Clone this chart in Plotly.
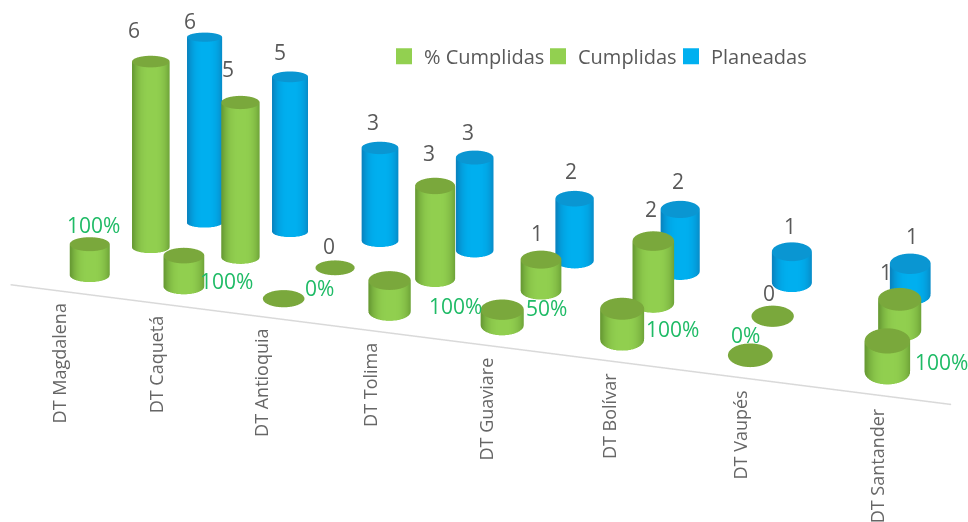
import numpy as np
import plotly.graph_objects as go

categories = ["DT Magdalena", "DT Caquetá", "DT Antioquia", "DT Tolima", "DT Guaviare", "DT Bolívar", "DT Vaupés", "DT Santander"]
pct_cumplidas = [1.0, 1.0, 0.0, 1.0, 0.5, 1.0, 0.0, 1.0]
cumplidas = [6, 5, 0, 3, 1, 2, 0, 1]
planeadas = [6, 5, 3, 3, 2, 2, 1, 1]
series_names = ["% Cumplidas", "Cumplidas", "Planeadas"]

# Floor-plane layout: (category, series) corners -> floor points, gives the converging rows of the original
CORNERS_SRC = [(0, 0), (7, 0), (0, 2), (7, 2)]
CORNERS_DST = [(89, 275), (887, 372), (204, 223), (910, 295)]
A = []
for (a, b), (c, d) in zip(CORNERS_SRC, CORNERS_DST):
    A.append([a, b, 1, 0, 0, 0, -a * c, -b * c, -c])
    A.append([0, 0, 0, a, b, 1, -a * d, -b * d, -d])
H = np.linalg.svd(np.array(A, float))[2][-1].reshape(3, 3)

# camera (orthographic)
ALPHA, ELEV = np.radians(20.3), np.radians(19.2)
ZPX = 31.0
UC, VC = 3.5, 1.0
ZC = (288 - 261) / ZPX
LIN = np.array([[114.0, 35.0], [13.9, -31.0]])
LINV = np.linalg.inv(LIN)
OFF_X, OFF_Y = -0.5, 0.0
XR, YR, ZR = (-1.5, 8.5), (-1.5, 3.5), (0, 7)
AX = 4.655
S = 121.6 * (XR[1] - XR[0]) / AX
DIST = 4.0
ASPECT = dict(x=AX, y=100.8 * (YR[1] - YR[0]) / S, z=ZPX / np.cos(ELEV) * (ZR[1] - ZR[0]) / S)
CENTER = dict(x=(UC - 3.5) * AX / 10, y=(VC - 1.0) * ASPECT["y"] / 5, z=(ZC - 3.5) * ASPECT["z"] / 7)
EYE = dict(x=CENTER["x"] + DIST * np.sin(ALPHA) * np.cos(ELEV),
           y=CENTER["y"] - DIST * np.cos(ALPHA) * np.cos(ELEV),
           z=CENTER["z"] + DIST * np.sin(ELEV))
N = 48


def project(i, d):
    p = H @ np.array([i, d, 1.0])
    return p[0] / p[2], p[1] / p[2]


def to_floor(sx, sy):
    a, b = LINV @ np.array([sx - OFF_X - 484, sy - OFF_Y - 288])
    return a + UC, b + VC


def floor(i, d):
    return to_floor(*project(i, d))


def shade(mid, edge, t):
    c = np.array(edge) + (np.array(mid) - np.array(edge)) * t
    return "rgb(%d,%d,%d)" % tuple(c)


def cylinders(depth, values, mid, edge, cap, name):
    xs, ys, zs, i, j, k, col = [], [], [], [], [], [], []
    th = np.linspace(0, 2 * np.pi, N + 1)
    for cx, v in enumerate(values):
        sx0, sy0 = project(cx, depth)
        w = 20 + 0.4 * cx - 1.2 * depth
        h = 7 + 0.8 * cx - 1.2 * depth
        rim = [to_floor(sx0 + w * np.cos(t), sy0 + h * np.sin(t)) for t in th]
        base = len(xs)
        for r, t in zip(rim, th):
            f = max(0.0, 1 - abs(np.cos(t) - 0.05) ** 3.0)
            for z in (0, v):
                xs.append(r[0]); ys.append(r[1]); zs.append(z)
                col.append(shade(mid, edge, f))
        for n in range(N):
            a = base + 2 * n
            i += [a, a + 1]
            j += [a + 1, a + 3]
            k += [a + 2, a + 2]
        c = len(xs)
        u0, v0 = to_floor(sx0, sy0)
        xs.append(u0); ys.append(v0); zs.append(v); col.append(shade(cap, cap, 1))
        for r in rim:
            xs.append(r[0]); ys.append(r[1]); zs.append(v); col.append(shade(cap, cap, 1))
        for n in range(N):
            i.append(c); j.append(c + 1 + n); k.append(c + 2 + n)
    return go.Mesh3d(x=xs, y=ys, z=zs, i=i, j=j, k=k, vertexcolor=col, name=name, showlegend=False,
                     flatshading=False, hoverinfo="skip",
                     lighting=dict(ambient=1, diffuse=0, specular=0, roughness=1, fresnel=0))


GREEN = ((146, 208, 80), (104, 155, 52), (122, 168, 60))
BLUE = ((0, 176, 240), (10, 132, 192), (10, 150, 210))
fig = go.Figure()
fig.add_trace(cylinders(0, pct_cumplidas, *GREEN, series_names[0]))
fig.add_trace(cylinders(1, cumplidas, *GREEN, series_names[1]))
fig.add_trace(cylinders(2, planeadas, *BLUE, series_names[2]))
bl = [floor(-0.49, -0.5), floor(7.47, -0.5)]
fig.add_trace(go.Scatter3d(x=[bl[0][0], bl[1][0]], y=[bl[0][1], bl[1][1]], z=[0, 0], mode="lines",
                           line=dict(color="#d9d9d9", width=3), showlegend=False, hoverinfo="skip"))
legend_ids = ["legend", "legend2", "legend3"]
for nm, g, lg in zip(series_names, ("#92D050", "#92D050", "#00B0F0"), legend_ids):
    fig.add_trace(go.Scatter3d(x=[None], y=[None], z=[None], mode="markers", name=nm, legend=lg,
                               showlegend=True, marker=dict(symbol="square", size=16, color=g)))

GRAY = "#595959"
PCT = "#1fbb66"
label_dx = [3, 3, 6, 6, 6, 5, 2, -3]
pct_shift = [(4, 19), (43, -25), (36, 11), (66, -25), (44, 2), (50, -20), (-5, 20), (54, -21)]
cum_shift = [(-17, 32), (-12, 33), (-6, 22), (-6, 33), (-4, 27), (-2, 32), (-4, 23), (-14, 27)]
plan_shift = [(-15, 16), (-10, 25), (-7, 26), (-7, 26), (-4, 28), (-2, 28), (-2, 26), (2, 28)]
ann = []
for cx, (c, p, q) in enumerate(zip(cumplidas, planeadas, pct_cumplidas)):
    u, v = floor(cx, -0.5)
    ann.append(dict(x=u, y=v, z=0, text=categories[cx], textangle=-90, showarrow=False, yanchor="top",
                    yshift=-11, xshift=label_dx[cx], font=dict(size=18, color="#666666", family="Open Sans")))
    u, v = floor(cx, 0)
    ann.append(dict(x=u, y=v, z=q, text="%d%%" % round(q * 100), showarrow=False, yanchor="middle",
                    xshift=pct_shift[cx][0], yshift=pct_shift[cx][1], font=dict(size=21, color=PCT, family="Open Sans")))
    u, v = floor(cx, 1)
    ann.append(dict(x=u, y=v, z=c, text=str(c), showarrow=False, yanchor="middle", xshift=cum_shift[cx][0],
                    yshift=cum_shift[cx][1], font=dict(size=21, color=GRAY, family="Open Sans")))
    u, v = floor(cx, 2)
    ann.append(dict(x=u, y=v, z=p, text=str(p), showarrow=False, yanchor="middle", xshift=plan_shift[cx][0],
                    yshift=plan_shift[cx][1], font=dict(size=21, color=GRAY, family="Open Sans")))

ax = dict(visible=False, showspikes=False, showgrid=False, zeroline=False, showline=False,
          showticklabels=False, showbackground=False, title="")


def legend_at(px):
    return dict(orientation="h", x=px / 968, y=0.9297, xanchor="left", yanchor="top",
                font=dict(size=20, color=GRAY), bgcolor="rgba(0,0,0,0)", itemsizing="trace")


fig.update_layout(
    width=968, height=522, margin=dict(l=0, r=0, t=0, b=0), paper_bgcolor="white",
    font=dict(family="Open Sans", color=GRAY, size=20),
    legend=legend_at(384), legend2=legend_at(538), legend3=legend_at(671),
    scene=dict(
        domain=dict(x=[0, 1], y=[0, 1]),
        xaxis=dict(ax, range=XR), yaxis=dict(ax, range=YR), zaxis=dict(ax, range=ZR),
        aspectmode="manual", aspectratio=ASPECT,
        camera=dict(eye=EYE, up=dict(x=0, y=0, z=1), center=CENTER, projection=dict(type="orthographic")),
        annotations=ann,
    ),
)
fig.write_html("out.html", config={"displayModeBar": False}, post_script="document.body.style.margin='0';")
